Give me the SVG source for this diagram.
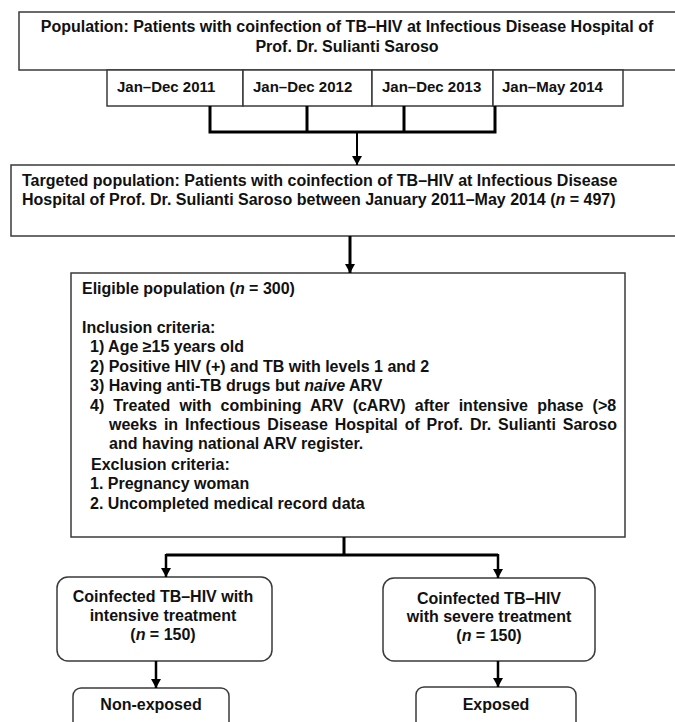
<svg xmlns="http://www.w3.org/2000/svg" width="675" height="722" viewBox="0 0 675 722">
<defs>
<marker id="ah" markerUnits="userSpaceOnUse" markerWidth="9" markerHeight="10" refX="9" refY="5" orient="auto">
<path d="M0,0 L9,5 L0,10 z" fill="#000"/>
</marker>
<style>
.box{fill:#fff;stroke:#3a3a3a;stroke-width:1.5}
.t{font-family:"Liberation Sans",Arial,sans-serif;font-weight:bold;font-size:16px;fill:#111}
.d{font-size:15px}
.c{text-anchor:middle}
.ln{fill:none;stroke:#000;stroke-width:3}
.ar{fill:none;stroke:#000;stroke-width:2.5;marker-end:url(#ah)}
</style>
</defs>
<rect width="675" height="722" fill="#fff"/>
<g id="population">
<rect class="box" x="19" y="12" width="662" height="58"/>
<text class="t c" x="347" y="32">Population: Patients with coinfection of TB–HIV at Infectious Disease Hospital of</text>
<text class="t c" x="347" y="52">Prof. Dr. Sulianti Saroso</text>
</g>
<g id="period2011">
<rect class="box" x="107" y="70" width="136" height="36"/>
<text class="t d" x="117" y="92">Jan–Dec 2011</text>
</g>
<g id="period2012">
<rect class="box" x="243" y="70" width="129" height="36"/>
<text class="t d" x="253" y="92">Jan–Dec 2012</text>
</g>
<g id="period2013">
<rect class="box" x="372" y="70" width="121" height="36"/>
<text class="t d" x="382" y="92">Jan–Dec 2013</text>
</g>
<g id="period2014">
<rect class="box" x="493" y="70" width="130" height="36"/>
<text class="t d" x="502" y="92">Jan–May 2014</text>
</g>
<g id="targeted">
<rect class="box" x="11" y="165" width="670" height="71"/>
<text class="t" x="22" y="186">Targeted population: Patients with coinfection of TB–HIV at Infectious Disease</text>
<text class="t" x="22" y="205">Hospital of Prof. Dr. Sulianti Saroso between January 2011–May 2014 (<tspan font-style="italic">n</tspan> = 497)</text>
</g>
<g id="eligible">
<rect class="box" x="71" y="273" width="554" height="264"/>
<text class="t" x="82" y="294">Eligible population (<tspan font-style="italic">n</tspan> = 300)</text>
<text class="t" x="82" y="333">Inclusion criteria:</text>
<text class="t" x="90" y="352">1) Age ≥15 years old</text>
<text class="t" x="90" y="372">2) Positive HIV (+) and TB with levels 1 and 2</text>
<text class="t" x="90" y="391">3) Having anti-TB drugs but <tspan font-style="italic">naive</tspan> ARV</text>
<text class="t" x="90" y="411" word-spacing="4.7">4) Treated with combining ARV (cARV) after intensive phase (&gt;8</text>
<text class="t" x="109" y="430" word-spacing="2.4">weeks in Infectious Disease Hospital of Prof. Dr. Sulianti Saroso</text>
<text class="t" x="109" y="449">and having national ARV register.</text>
<text class="t" x="91" y="470">Exclusion criteria:</text>
<text class="t" x="90" y="489">1. Pregnancy woman</text>
<text class="t" x="90" y="509">2. Uncompleted medical record data</text>
</g>
<g id="intensive">
<rect class="box" x="57" y="577" width="215" height="84" rx="11"/>
<text class="t c" x="163" y="602">Coinfected TB–HIV with</text>
<text class="t c" x="163" y="621">intensive treatment</text>
<text class="t c" x="163" y="640">(<tspan font-style="italic">n</tspan> = 150)</text>
</g>
<g id="severe">
<rect class="box" x="383" y="578" width="212" height="83" rx="11"/>
<text class="t c" x="489" y="604">Coinfected TB–HIV</text>
<text class="t c" x="489" y="622">with severe treatment</text>
<text class="t c" x="489" y="641">(<tspan font-style="italic">n</tspan> = 150)</text>
</g>
<g id="nonexposed">
<rect class="box" x="73" y="688" width="156" height="50" rx="8"/>
<text class="t c" x="151" y="710">Non-exposed</text>
</g>
<g id="exposed">
<rect class="box" x="416" y="687" width="160" height="50" rx="8"/>
<text class="t c" x="496" y="710">Exposed</text>
</g>
<g id="connectors">
<path class="ln" d="M210,106 V132 H495 V106 M307,106 V132 M404,106 V132"/>
<line class="ar" x1="357" y1="132" x2="357" y2="165" style="stroke-width:2"/>
<line class="ar" x1="350" y1="236" x2="350" y2="273" style="stroke-width:3"/>
<path class="ln" d="M344,537 V555 M166,555 H498"/>
<line class="ar" x1="166" y1="554" x2="166" y2="577"/>
<line class="ar" x1="498" y1="554" x2="498" y2="578"/>
<line class="ar" x1="156" y1="661" x2="156" y2="688"/>
<line class="ar" x1="498" y1="661" x2="498" y2="687"/>
</g>
</svg>
